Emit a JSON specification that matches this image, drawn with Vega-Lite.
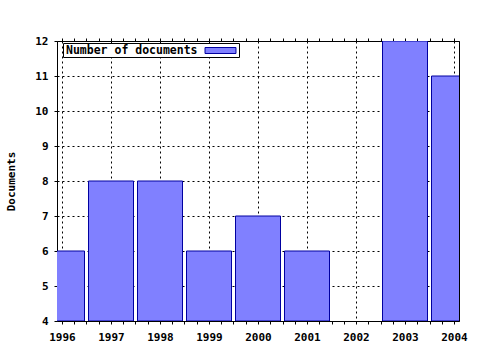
{
  "$schema": "https://vega.github.io/schema/vega-lite/v6.json",
  "width": 402,
  "height": 280,
  "autosize": {"type": "none"},
  "padding": {"left": 57, "top": 41, "right": 21, "bottom": 29},
  "background": "white",
  "config": {
    "view": {"stroke": "black", "strokeWidth": 1},
    "font": "DejaVu Sans Mono",
    "axis": {
      "labelFont": "DejaVu Sans Mono",
      "labelFontWeight": "bold",
      "labelFontSize": 11,
      "labelColor": "black",
      "titleFont": "DejaVu Sans Mono",
      "titleFontWeight": "bold",
      "titleFontSize": 11,
      "titleColor": "black",
      "domain": false,
      "tickColor": "black",
      "gridColor": "black",
      "gridDash": [2, 3],
      "gridOpacity": 1,
      "gridWidth": 1
    }
  },
  "data": {
    "values": [
      {"year": 1996, "docs": 6},
      {"year": 1997, "docs": 8},
      {"year": 1998, "docs": 8},
      {"year": 1999, "docs": 6},
      {"year": 2000, "docs": 7},
      {"year": 2001, "docs": 6},
      {"year": 2003, "docs": 12},
      {"year": 2004, "docs": 11}
    ]
  },
  "resolve": {"axis": {"x": "independent", "y": "independent"}},
  "layer": [
    {
      "mark": {"type": "bar", "size": 45, "clip": true, "fill": "#8080ff", "stroke": "#0000a0", "strokeWidth": 1},
      "encoding": {
        "x": {
          "field": "year", "type": "quantitative",
          "scale": {"domain": [1996, 2004], "nice": false, "zero": false},
          "axis": {
            "orient": "bottom", "title": null, "values": [1996, 1997, 1998, 1999, 2000, 2001, 2002, 2003, 2004],
            "format": "d", "tickSize": 3, "labelPadding": 7, "grid": true, "labelFlush": false, "labelOverlap": false
          }
        },
        "y": {
          "field": "docs", "type": "quantitative",
          "scale": {"domain": [4, 12], "nice": false, "zero": false},
          "axis": {
            "orient": "left", "title": "Documents", "values": [4, 5, 6, 7, 8, 9, 10, 11, 12],
            "tickSize": 3, "labelPadding": 6, "grid": true, "titlePadding": 18, "labelFlush": false, "labelOverlap": false
          }
        },
        "y2": {"datum": 4},
        "color": {
          "datum": "Number of documents",
          "scale": {"range": ["#8080ff"]},
          "legend": {
            "title": null,
            "orient": "none",
            "legendX": 6,
            "legendY": 2,
            "strokeColor": "black",
            "fillColor": "white",
            "padding": 1,
            "symbolType": "M-2.58,-0.5H2.58V0.5H-2.58Z",
            "symbolSize": 144,
            "symbolStrokeColor": "#0000a0",
            "symbolStrokeWidth": 1,
            "symbolFillColor": "#8080ff",
            "symbolOffset": 150,
            "labelFont": "DejaVu Sans Mono",
            "labelFontWeight": "bold",
            "labelFontSize": 11.5,
            "labelColor": "black",
            "labelOffset": -161
          }
        }
      }
    },
    {
      "mark": {"type": "point", "opacity": 0},
      "encoding": {
        "x": {
          "field": "year", "type": "quantitative",
          "axis": {
            "orient": "top", "title": null, "labels": false, "grid": false, "tickSize": 3,
            "values": [1996, 1996.25, 1996.5, 1996.75, 1997, 1997.25, 1997.5, 1997.75, 1998, 1998.25, 1998.5, 1998.75, 1999, 1999.25, 1999.5, 1999.75, 2000, 2000.25, 2000.5, 2000.75, 2001, 2001.25, 2001.5, 2001.75, 2002, 2002.25, 2002.5, 2002.75, 2003, 2003.25, 2003.5, 2003.75, 2004]
          }
        },
        "y": {
          "field": "docs", "type": "quantitative",
          "axis": null
        }
      }
    },
    {
      "mark": {"type": "point", "opacity": 0},
      "encoding": {
        "x": {
          "field": "year", "type": "quantitative",
          "axis": {
            "orient": "bottom", "title": null, "labels": false, "grid": false, "tickSize": 3,
            "values": [1996.25, 1996.5, 1996.75, 1997.25, 1997.5, 1997.75, 1998.25, 1998.5, 1998.75, 1999.25, 1999.5, 1999.75, 2000.25, 2000.5, 2000.75, 2001.25, 2001.5, 2001.75, 2002.25, 2002.5, 2002.75, 2003.25, 2003.5, 2003.75]
          }
        },
        "y": {
          "field": "docs", "type": "quantitative",
          "axis": null
        }
      }
    }
  ]
}
